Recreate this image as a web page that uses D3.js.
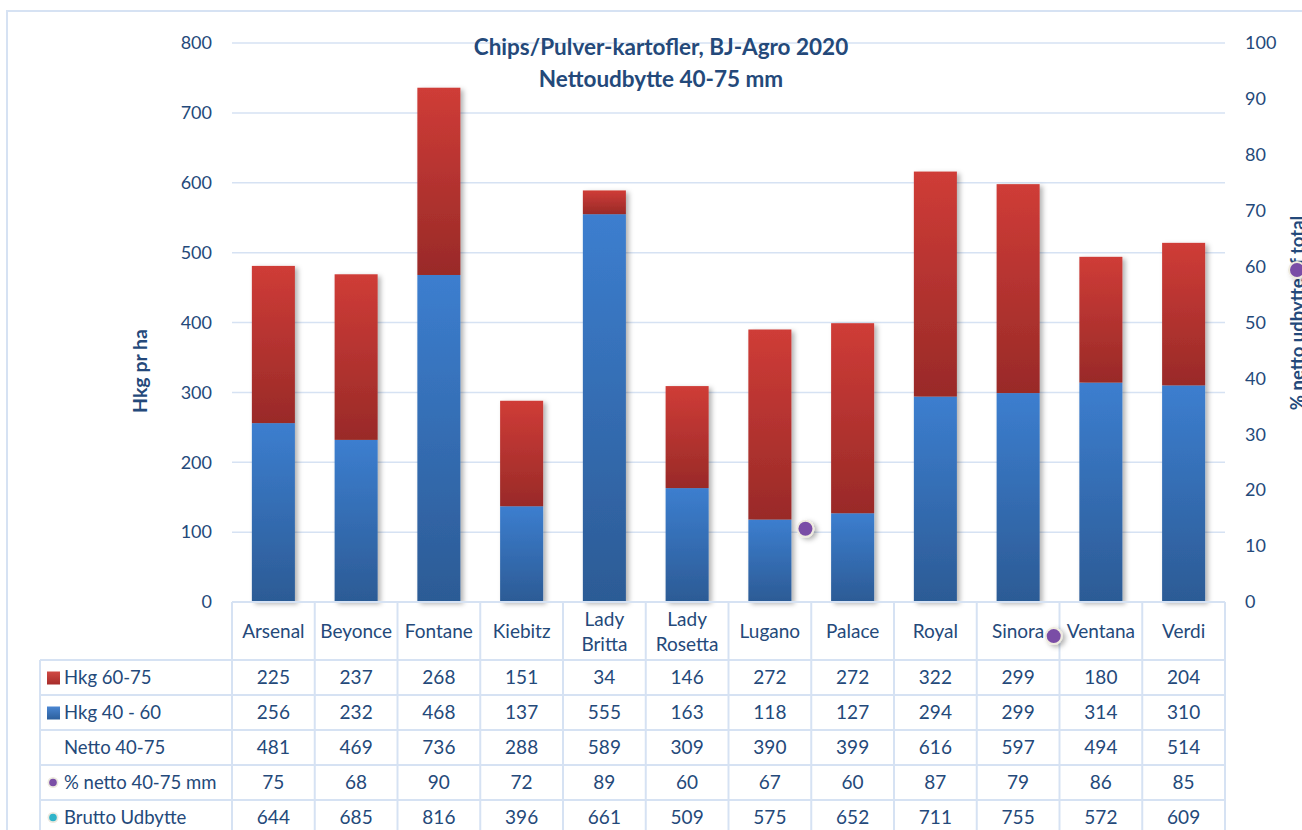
<!DOCTYPE html>
<html>
<head>
<meta charset="utf-8">
<script src="https://cdn.jsdelivr.net/npm/d3@7"></script>
<style>
  body { margin: 0; background: #fff; }
  svg { display: block; font-family: Lato, "Open Sans", sans-serif; }
</style>
</head>
<body>
<svg id="chart" width="1302" height="830"></svg>
<script>
// data
const categories = ["Arsenal", "Beyonce", "Fontane", "Kiebitz", "Lady Britta", "Lady Rosetta",
  "Lugano", "Palace", "Royal", "Sinora", "Ventana", "Verdi"]
const hkg6075 = [225, 237, 268, 151, 34, 146, 272, 272, 322, 299, 180, 204]
const hkg4060 = [256, 232, 468, 137, 555, 163, 118, 127, 294, 299, 314, 310]
const netto = [481, 469, 736, 288, 589, 309, 390, 399, 616, 597, 494, 514]
const pctNetto = [75, 68, 90, 72, 89, 60, 67, 60, 87, 79, 86, 85]
const brutto = [644, 685, 816, 396, 661, 509, 575, 652, 711, 755, 572, 609]
const leftTicks = [0, 100, 200, 300, 400, 500, 600, 700, 800]
const rightTicks = [0, 10, 20, 30, 40, 50, 60, 70, 80, 90, 100]
// stray % markers in the original picture (position in category steps, value on right axis)
const strayDots = [{ at: 6.93, v: 13.1 }, { at: 9.93, v: -6.1 }, { at: 12.87, v: 59.4 }]

const textColor = '#24497a'
const gridColor = '#d6e2f3'

const svg = d3.select('#chart')
const defs = svg.append('defs')

const grad = (id, c1, c2) => {
  const g = defs.append('linearGradient').attr('id', id)
    .attr('x1', 0).attr('y1', 0).attr('x2', 0).attr('y2', 1)
  g.append('stop').attr('offset', '0%').attr('stop-color', c1)
  g.append('stop').attr('offset', '100%').attr('stop-color', c2)
}
grad('gRed', '#cf3c37', '#992a28')
grad('gBlue', '#3c7ecf', '#2c5b95')
grad('gRedK', '#d04a44', '#a72c2a')
grad('gBlueK', '#4a86d2', '#2c5f9c')

const shadow = defs.append('filter').attr('id', 'shadow')
  .attr('x', '-20%').attr('y', '-20%').attr('width', '150%').attr('height', '150%')
shadow.append('feDropShadow').attr('dx', 3).attr('dy', 2).attr('stdDeviation', 2.5)
  .attr('flood-color', '#000').attr('flood-opacity', 0.3)

const plotLeft = 232, plotRight = 1225, plotTop = 43, plotBase = 602

const x = d3.scaleBand().domain(categories).range([plotLeft, plotRight]).paddingInner(0.48).paddingOuter(0.24)
const xCell = d3.scaleBand().domain(categories).range([plotLeft, plotRight])
const y = d3.scaleLinear().domain([0, 800]).range([plotBase, plotTop])
const yR = d3.scaleLinear().domain([0, 100]).range([plotBase, plotTop])

// outer frame
svg.append('path').attr('d', `M7,830 V11 H1302`)
  .attr('fill', 'none').attr('stroke', gridColor).attr('stroke-width', 2)

// gridlines
svg.append('g').selectAll('line').data(leftTicks.filter(d => d > 0)).join('line')
  .attr('x1', plotLeft).attr('x2', plotRight)
  .attr('y1', d => y(d)).attr('y2', d => y(d))
  .attr('stroke', gridColor).attr('stroke-width', 1.5)

// left axis
const axL = svg.append('g').attr('transform', `translate(${plotLeft - 20},0)`)
  .call(d3.axisLeft(y).tickValues(leftTicks).tickSize(0).tickPadding(0))
axL.select('.domain').remove()
axL.selectAll('text').attr('font-size', 18).attr('fill', textColor).attr('font-family', 'Lato')

// right axis
const axR = svg.append('g').attr('transform', `translate(${plotRight + 20},0)`)
  .call(d3.axisRight(yR).tickValues(rightTicks).tickSize(0).tickPadding(0))
axR.select('.domain').remove()
axR.selectAll('text').attr('font-size', 18).attr('fill', textColor).attr('font-family', 'Lato')

// axis titles
svg.append('text').attr('transform', `translate(147,371) rotate(-90)`)
  .attr('text-anchor', 'middle').attr('font-size', 19.5).attr('font-weight', 'bold')
  .attr('fill', textColor).text('Hkg pr ha')
svg.append('text').attr('transform', `translate(1304,313) rotate(-90)`)
  .attr('text-anchor', 'middle').attr('font-size', 18.5).attr('font-weight', 'bold')
  .attr('fill', textColor).text('% netto udbytte af total')

// stacked bars
const bars = svg.append('g').attr('filter', 'url(#shadow)')
bars.selectAll('rect.blue').data(categories).join('rect').attr('class', 'blue')
  .attr('x', d => x(d)).attr('width', x.bandwidth())
  .attr('y', (d, i) => y(hkg4060[i])).attr('height', (d, i) => y(0) - y(hkg4060[i]))
  .attr('fill', 'url(#gBlue)')
bars.selectAll('rect.red').data(categories).join('rect').attr('class', 'red')
  .attr('x', d => x(d)).attr('width', x.bandwidth())
  .attr('y', (d, i) => y(hkg4060[i] + hkg6075[i])).attr('height', (d, i) => y(hkg4060[i]) - y(hkg4060[i] + hkg6075[i]))
  .attr('fill', 'url(#gRed)')

// title
const title = svg.append('text').attr('text-anchor', 'middle').attr('font-size', 22.5)
  .attr('font-weight', 'bold').attr('fill', textColor)
title.append('tspan').attr('x', 661).attr('y', 55).text('Chips/Pulver-kartofler, BJ-Agro 2020')
title.append('tspan').attr('x', 661).attr('y', 87).text('Nettoudbytte 40-75 mm')

// data table
const rowTop = 660, rowH = 35
const rows = [
  { name: 'Hkg 60-75', values: hkg6075, key: 'rect', fill: 'url(#gRedK)' },
  { name: 'Hkg 40 - 60', values: hkg4060, key: 'rect', fill: 'url(#gBlueK)' },
  { name: 'Netto 40-75', values: netto, key: null },
  { name: '% netto 40-75 mm', values: pctNetto, key: 'dot', fill: '#7a4ea6' },
  { name: 'Brutto Udbytte', values: brutto, key: 'dot', fill: '#2fb3c9' }
]
const table = svg.append('g')
const tableBottom = rowTop + rowH * rows.length
// vertical lines
table.selectAll('line.v').data(categories.concat(['end'])).join('line').attr('class', 'v')
  .attr('x1', (d, i) => i < categories.length ? xCell(d) : plotRight)
  .attr('x2', (d, i) => i < categories.length ? xCell(d) : plotRight)
  .attr('y1', plotBase).attr('y2', tableBottom)
  .attr('stroke', gridColor).attr('stroke-width', 2)
table.append('line').attr('x1', 40).attr('x2', 40).attr('y1', rowTop).attr('y2', tableBottom)
  .attr('stroke', gridColor).attr('stroke-width', 2)
// horizontal lines
table.append('line').attr('x1', plotLeft).attr('x2', plotRight).attr('y1', plotBase).attr('y2', plotBase)
  .attr('stroke', gridColor).attr('stroke-width', 2)
table.selectAll('line.h').data(d3.range(rows.length)).join('line').attr('class', 'h')
  .attr('x1', 40).attr('x2', plotRight)
  .attr('y1', i => rowTop + i * rowH).attr('y2', i => rowTop + i * rowH)
  .attr('stroke', gridColor).attr('stroke-width', 2)

// header (category names)
const head = table.selectAll('text.head').data(categories).join('text').attr('class', 'head')
  .attr('text-anchor', 'middle').attr('font-size', 19).attr('fill', textColor)
head.each(function (d) {
  const words = d.split(' ')
  const cx = xCell(d) + xCell.bandwidth() / 2
  const t = d3.select(this)
  if (words.length === 1) {
    t.append('tspan').attr('x', cx).attr('y', 638).text(d)
  } else {
    t.append('tspan').attr('x', cx).attr('y', 626).text(words[0])
    t.append('tspan').attr('x', cx).attr('y', 651).text(words.slice(1).join(' '))
  }
})

rows.forEach((r, ri) => {
  const cy = rowTop + ri * rowH + rowH / 2
  if (r.key === 'rect') {
    table.append('rect').attr('x', 47).attr('y', cy - 6).attr('width', 13).attr('height', 13)
      .attr('fill', r.fill)
  } else if (r.key === 'dot') {
    table.append('circle').attr('cx', 53).attr('cy', cy).attr('r', 5.5).attr('fill', '#ece9df')
    table.append('circle').attr('cx', 53).attr('cy', cy).attr('r', 3.8).attr('fill', r.fill)
  }
  table.append('text').attr('x', 64).attr('y', cy + 6.5).attr('font-size', 18.5)
    .attr('fill', textColor).text(r.name)
  table.selectAll(null).data(r.values).join('text')
    .attr('x', (d, i) => xCell(categories[i]) + xCell.bandwidth() / 2)
    .attr('y', cy + 6.5).attr('text-anchor', 'middle').attr('font-size', 19)
    .attr('fill', textColor).text(d => d)
})

// stray % markers
const dots = svg.append('g').attr('filter', 'url(#shadow)')
strayDots.forEach(s => {
  const cx = plotLeft + xCell.step() * s.at
  dots.append('circle').attr('cx', cx).attr('cy', yR(s.v)).attr('r', 9).attr('fill', '#efebdf')
  dots.append('circle').attr('cx', cx).attr('cy', yR(s.v)).attr('r', 7).attr('fill', '#7a4ea6')
})
</script>
</body>
</html>
